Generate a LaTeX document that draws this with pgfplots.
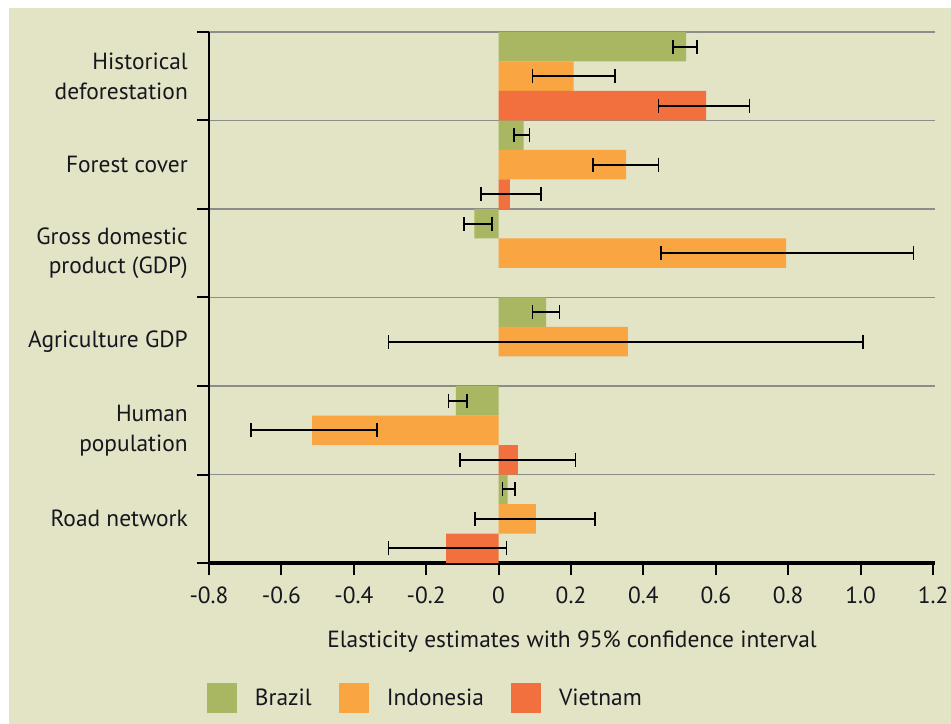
\documentclass[border=0pt]{standalone}
\usepackage{fontspec}
\setmainfont{PT Sans}
\usepackage{pgfplots}
\pgfplotsset{compat=1.18}
\definecolor{bg}{RGB}{227,227,197}
\definecolor{brazil}{RGB}{170,183,98}
\definecolor{indo}{RGB}{248,165,66}
\definecolor{viet}{RGB}{242,112,61}
\definecolor{gridg}{RGB}{140,140,140}
\definecolor{txt}{RGB}{22,22,30}
\pgfplotsset{
  myerr/.style={
    error bars/x dir=both, error bars/x explicit,
    error bars/error mark=|,
    error bars/error bar style={draw=black, solid, line width=1.7bp},
    error bars/error mark options={draw=black, solid, line width=1.7bp, mark size=7bp},
  },
}
\begin{document}
\begin{tikzpicture}
\fill[white] (-209bp,-161bp) rectangle (742bp,563bp);
\fill[bg] (-200bp,-161bp) rectangle (742bp,555bp);
\useasboundingbox (-209bp,-161bp) rectangle (742bp,563bp);
\begin{axis}[
  scale only axis,
  width=726bp, height=531bp,
  xmin=-0.8, xmax=1.2055,
  ymin=0, ymax=18,
  axis x line*=bottom, axis y line*=left,
  x axis line style={-, black, line width=3.5bp},
  y axis line style={-, black, line width=2bp},
  tick align=outside,
  major tick length=12bp,
  tick style={black, line width=2bp},
  xtick={-0.8,-0.6,-0.4,-0.2,0,0.2,0.4,0.6,0.8,1.0,1.2},
  xticklabels={-0.8,-0.6,-0.4,-0.2,0,0.2,0.4,0.6,0.8,1.0,1.2},
  ytick={0,3,6,9,12,15,18},
  yticklabels={,,,,,,},
  ymajorgrids,
  grid style={gridg, line width=1.5bp},
  extra y ticks={16.5,13.5,10.5,7.5,4.5,1.5},
  extra y tick labels={{Historical\\deforestation},{Forest cover},{Gross domestic\\product (GDP)},{Agriculture GDP},{Human\\population},{Road network}},
  extra y tick style={major tick length=0pt, grid=none, yticklabel style={xshift=-21bp}},
  every tick label/.append style={font=\fontsize{23.5}{30}\selectfont, text=txt},
  yticklabel style={align=right, inner sep=0pt},
  xticklabel style={inner sep=0pt, yshift=-12bp},
  xlabel={Elasticity estimates with 95\% confidence interval},
  xlabel style={at={(axis description cs:0.5,0)}, anchor=north, yshift=-68bp, inner sep=0pt, font=\fontsize{23.5}{30}\selectfont, text=txt},
  xbar, bar width=1, bar shift=0pt,
  legend image code/.code={\fill[#1] (0bp,-15bp) rectangle (30bp,15bp);},
  legend style={draw=none, fill=none, inner sep=0pt, outer sep=0pt, legend columns=-1,
    at={(axis description cs:0,0)}, anchor=west, xshift=-2bp, yshift=-135bp,
    font=\fontsize{23.5}{30}\selectfont, text=txt,
    nodes={inner sep=0pt},
    /tikz/every odd column/.append style={column sep=18bp},
    /tikz/every even column/.append style={column sep=27bp}},
]
\addplot[fill=brazil, draw=none, myerr] coordinates {
  (0.518,17.5) += (0.030,0) -= (0.037,0)
  (0.069,14.5) += (0.016,0) -= (0.026,0)
  (-0.067,11.5) += (0.048,0) -= (0.028,0)
  (0.131,8.5) += (0.037,0) -= (0.037,0)
  (-0.118,5.5) += (0.031,0) -= (0.020,0)
  (0.025,2.5) += (0.021,0) -= (0.014,0)
};
\addplot[fill=indo, draw=none, myerr] coordinates {
  (0.207,16.5) += (0.115,0) -= (0.113,0)
  (0.352,13.5) += (0.090,0) -= (0.092,0)
  (0.794,10.5) += (0.352,0) -= (0.345,0)
  (0.357,7.5) += (0.650,0) -= (0.661,0)
  (-0.515,4.5) += (0.179,0) -= (0.169,0)
  (0.103,1.5) += (0.163,0) -= (0.168,0)
};
\addplot[fill=viet, draw=none, myerr] coordinates {
  (0.573,15.5) += (0.120,0) -= (0.131,0)
  (0.031,12.5) += (0.086,0) -= (0.080,0)
  (0.053,3.5) += (0.159,0) -= (0.159,0)
  (-0.145,0.5) += (0.167,0) -= (0.159,0)
};
\legend{Brazil,Indonesia,Vietnam}
\end{axis}
\end{tikzpicture}
\end{document}
